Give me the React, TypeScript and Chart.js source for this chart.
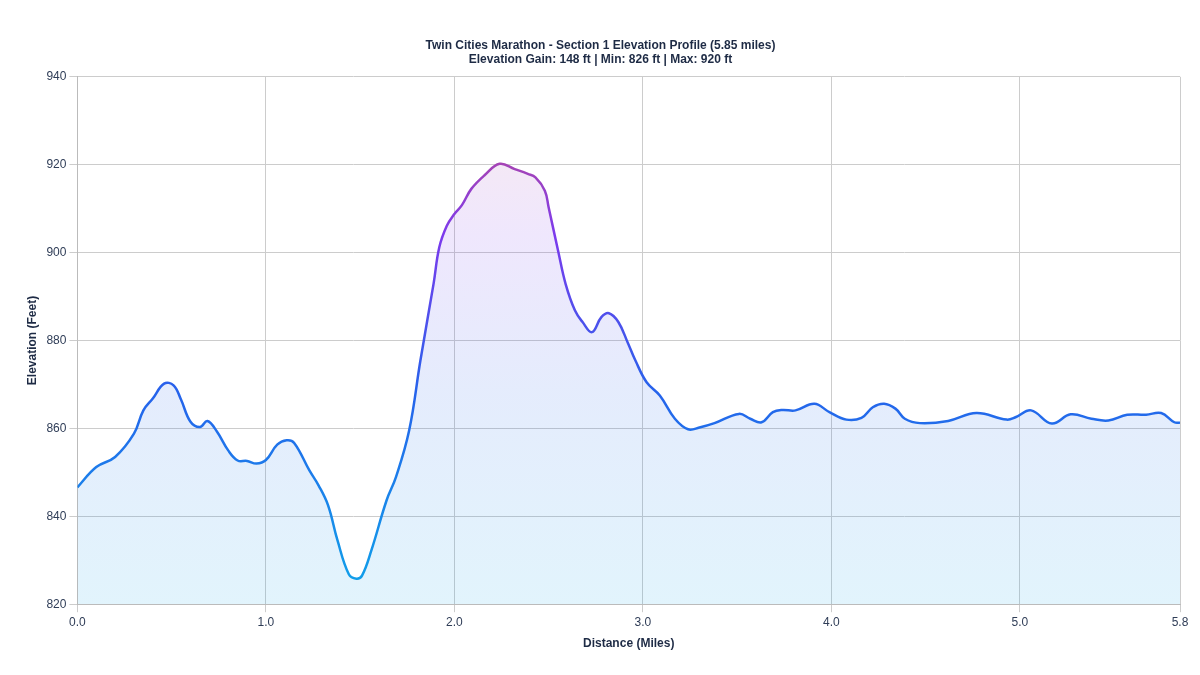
import React, { useEffect, useRef } from "react";
import { Chart, registerables } from "chart.js";

Chart.register(...registerables);

const distances = [
  0.0, 0.1, 0.2, 0.3, 0.35, 0.4, 0.46, 0.51, 0.55, 0.6, 0.65, 0.69, 0.74, 0.8, 0.85, 0.9, 0.95,
  1.0, 1.06, 1.11, 1.15, 1.23, 1.28, 1.33, 1.38, 1.44, 1.48, 1.51, 1.56, 1.64, 1.69, 1.76, 1.82,
  1.89, 1.92, 1.96, 2.0, 2.04, 2.09, 2.16, 2.24, 2.32, 2.39, 2.43, 2.48, 2.5, 2.55, 2.59, 2.64,
  2.68, 2.73, 2.78, 2.82, 2.87, 2.92, 2.96, 3.02, 3.09, 3.17, 3.24, 3.3, 3.38, 3.51, 3.57, 3.63,
  3.69, 3.74, 3.81, 3.91, 3.99, 4.08, 4.16, 4.22, 4.28, 4.34, 4.39, 4.47, 4.62, 4.77, 4.93, 4.98,
  5.06, 5.17, 5.27, 5.38, 5.47, 5.57, 5.67, 5.75, 5.82, 5.85,
];

const elevations = [
  846.6, 851.2, 853.5, 858.8, 864.1, 866.8, 870.2, 869.8, 866.5, 861.5, 860.3, 861.7, 859.3, 855,
  852.7, 852.6, 852, 852.8, 856.3, 857.3, 856.7, 850.5, 847, 842.5, 834.5, 826.8, 825.8, 826.5,
  832.3, 843.6, 848.9, 859.5, 875.5, 893, 901.2, 906.1, 908.8, 910.8, 914.5, 917.6, 920.2, 919.0,
  917.9, 917.1, 914.1, 910.3, 900.5, 892.9, 886.8, 884.2, 881.9, 885.3, 886.2, 884.2, 879.5,
  875.5, 870.5, 867.5, 862.2, 859.8, 860.2, 861.2, 863.3, 862.2, 861.4, 863.7, 864.2, 864.1,
  865.6, 863.7, 862, 862.4, 864.8, 865.6, 864.5, 862.2, 861.2, 861.7, 863.5, 862, 862.6, 864.1,
  861.1, 863.2, 862.2, 861.8, 863.1, 863.1, 863.5, 861.4, 861.3,
];

const titleLines = [
  "Twin Cities Marathon - Section 1 Elevation Profile (5.85 miles)",
  "Elevation Gain: 148 ft | Min: 826 ft | Max: 920 ft",
];
const xTitle = "Distance (Miles)";
const yTitle = "Elevation (Feet)";
const yMin = 820;
const yMax = 940;
const yStep = 20;
const xMin = 0;
const xMax = 5.85;
const xStep = 1;

const FONT = "'Liberation Sans', Arial, Helvetica, sans-serif";

function makeGradient(ctx: CanvasRenderingContext2D, area: any, alpha: number) {
  const g = ctx.createLinearGradient(0, area.bottom, 0, area.top);
  const a = (r: number, gg: number, b: number) => `rgba(${r},${gg},${b},${alpha})`;
  g.addColorStop(0, a(14, 165, 233));
  g.addColorStop(0.4, a(37, 99, 235));
  g.addColorStop(0.7, a(124, 58, 237));
  g.addColorStop(1, a(214, 80, 115));
  return g;
}

export default function App() {
  const ref = useRef<HTMLCanvasElement | null>(null);

  useEffect(() => {
    if (!ref.current) return;
    const points = distances.map((d, i) => ({ x: d, y: elevations[i] }));
    const chart = new Chart(ref.current, {
      type: "line",
      data: {
        datasets: [
          {
            label: "Elevation",
            data: points,
            borderWidth: 2.5,
            pointRadius: 0,
            tension: 0.4,
            fill: "start",
            borderColor: (c: any) => {
              const { ctx, chartArea } = c.chart;
              if (!chartArea) return "#2277ee";
              return makeGradient(ctx, chartArea, 1);
            },
            backgroundColor: (c: any) => {
              const { ctx, chartArea } = c.chart;
              if (!chartArea) return "rgba(34,119,238,0.12)";
              return makeGradient(ctx, chartArea, 0.12);
            },
          },
        ],
      },
      options: {
        animation: false,
        responsive: true,
        maintainAspectRatio: false,
        layout: { padding: { top: 20, left: 13, right: 12, bottom: 12 } },
        plugins: {
          legend: { display: false },
          tooltip: { enabled: false },
          title: {
            display: true,
            text: titleLines,
            color: "#1e2b45",
            font: { family: FONT, size: 12, weight: "bold" },
            padding: { top: 10, bottom: 10 },
          },
        },
        scales: {
          x: {
            type: "linear",
            min: xMin,
            max: xMax,
            ticks: {
              stepSize: xStep,
              color: "#2f3d57",
              font: { family: FONT, size: 12 },
              callback: (v: any) => Number(v).toFixed(1),
            },
            grid: { color: "#cccccc" },
            border: { color: "#bbbbbb" },
            title: {
              display: true,
              text: xTitle,
              color: "#1e2b45",
              font: { family: FONT, size: 12, weight: "bold" },
            },
          },
          y: {
            min: yMin,
            max: yMax,
            ticks: {
              stepSize: yStep,
              color: "#2f3d57",
              font: { family: FONT, size: 12 },
            },
            grid: { color: "#cccccc" },
            border: { color: "#bbbbbb" },
            title: {
              display: true,
              text: yTitle,
              color: "#1e2b45",
              font: { family: FONT, size: 12, weight: "bold" },
            },
          },
        },
      },
    });
    return () => chart.destroy();
  }, []);

  return (
    <div style={{ width: "100%", height: 659, position: "relative" }}>
      <canvas ref={ref} />
    </div>
  );
}
